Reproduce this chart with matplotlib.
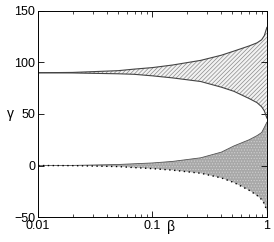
import matplotlib
matplotlib.use("Agg")
import matplotlib.pyplot as plt

# beta samples and band edges
beta = [0.01, 0.02, 0.05, 0.069, 0.1, 0.15, 0.264, 0.4, 0.515, 0.7, 0.82, 0.9, 0.95, 1.0]
upper_top = [90, 90.3, 92, 93.5, 95, 97.5, 102, 107, 111, 116, 119, 122, 126, 134]
upper_bot = [90, 89.8, 89, 88.5, 87, 85, 81.5, 76, 72, 65, 61, 57, 53, 46]
lower_top = [0, 0.1, 1, 1.7, 2.5, 4, 7.5, 13, 19, 25, 29, 32, 37, 42]
lower_bot = [0, -0.1, -1, -2, -3, -4.5, -7.5, -12, -16.5, -24, -29, -33, -37, -44]

yticks = [-50, 0, 50, 100, 150]
xticks = [0.01, 0.1, 1]
xticklabels = ["0.01", "0.1", "1"]

plt.rcParams["font.family"] = ["Liberation Sans", "DejaVu Sans"]
plt.rcParams["hatch.linewidth"] = 0.5

fig = plt.figure(figsize=(2.74, 2.42), dpi=100)
ax = fig.add_axes([0.139, 0.103, 0.835, 0.852])

ax.fill_between(beta, upper_bot, upper_top, facecolor="#f2f2f2", edgecolor="#8a8a8a",
                hatch="////////", linewidth=0)
ax.plot(beta, upper_top, color="#444444", lw=0.8)
ax.plot(beta, upper_bot, color="#444444", lw=0.8)

ax.fill_between(beta, lower_bot, lower_top, facecolor="#a8a8a8", edgecolor="#d0d0d0",
                hatch="......", linewidth=0)
ax.plot(beta, lower_top, color="#555555", lw=0.6)
ax.plot(beta, lower_bot, color="black", lw=1.0, ls=(0, (1, 2.5)))

ax.set_xscale("log")
ax.set_xlim(0.01, 1)
ax.set_ylim(-50, 150)
ax.set_xticks(xticks)
ax.set_xticklabels(xticklabels)
ax.set_yticks(yticks)
ax.tick_params(which="both", direction="in", top=True, right=True, labelsize=9, pad=2)
ax.tick_params(which="major", length=4, width=0.6)
ax.tick_params(which="minor", length=2, width=0.5)

ax.text(0.135, -60, "β", fontsize=10, ha="left", va="center")
ax.text(-0.12, 0.5, "γ", fontsize=10, ha="center", va="center", transform=ax.transAxes)

for s in ax.spines.values():
    s.set_linewidth(0.7)

fig.savefig("out.png", dpi=100)
